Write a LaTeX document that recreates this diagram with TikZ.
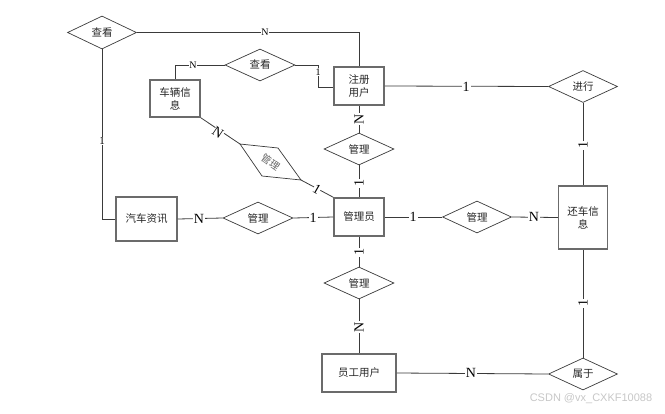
\documentclass[tikz,border=0pt]{standalone}
\usepackage{fontspec}
\setmainfont{Liberation Serif}
\newfontfamily\cjk{Noto Sans CJK SC}
\newfontfamily\wmfont{Liberation Sans}
\usetikzlibrary{shapes.geometric}
\definecolor{boxgray}{HTML}{6B6B6B}
\definecolor{linegray}{HTML}{3A3A3A}
\begin{document}
\begin{tikzpicture}[x=1pt,y=-1pt,
  ent/.style={draw=boxgray, line width=1.5pt, inner sep=0pt, align=center,
    text=black!85, font=\cjk\fontsize{10.5}{13}\selectfont},
  rel/.style={diamond, draw=linegray, line width=0.7pt, inner sep=0pt, aspect=2.2,
    minimum width=70pt, minimum height=32pt, text=black!85,
    font=\cjk\fontsize{10.5}{13}\selectfont},
  conn/.style={draw=linegray, line width=0.8pt},
  lab/.style={fill=white, inner sep=1pt, font=\fontsize{14}{14}\selectfont},
  slab/.style={fill=white, inner sep=0.5pt, font=\fontsize{10}{10}\selectfont}]
\useasboundingbox (0,0) rectangle (665,413);

% entities
\node[ent, minimum width=50pt, minimum height=37pt] (clxx) at (175,98.5) {车辆信\\息};
\node[ent, minimum width=50pt, minimum height=38pt] (zcyh) at (359,86) {注册\\用户};
\node[ent, minimum width=50pt, minimum height=38pt] (gly) at (359,217) {管理员};
\node[ent, minimum width=61pt, minimum height=44pt] (qczx) at (146.5,219) {汽车资讯};
\node[ent, minimum width=49pt, minimum height=63pt] (hcxx) at (583,217.5) {还车信\\息};
\node[ent, minimum width=74pt, minimum height=38pt] (ygyh) at (359,373) {员工用户};

% relationships
\node[rel, minimum width=69pt, minimum height=33pt] (ck1) at (102,32.5) {查看};
\node[rel] (ck2) at (260,65) {查看};
\node[rel, minimum width=69pt] (jx) at (583,86.5) {进行};
\node[rel] (gla) at (359,149) {管理};
\node[rel] (glb) at (258,218) {管理};
\node[rel, minimum width=69pt] (glc) at (477,217) {管理};
\node[rel] (gld) at (359,283) {管理};
\node[rel, minimum width=69pt] (sy) at (583,374) {属于};

% skewed relationship
\coordinate (rtl) at (240,144);
\coordinate (rtr) at (278,148);
\coordinate (rbr) at (301,180);
\coordinate (rbl) at (262,176);
\draw[draw=linegray, line width=0.7pt] (rtl) -- (rtr) -- (rbr) -- (rbl) -- cycle;
\node[rotate=-35, text=black!60, inner sep=0pt, font=\cjk\fontsize{10}{11}\selectfont] (rdt) at (270.5,162) {管理};

% connectors
\draw[conn] (ck1.east) -| (zcyh.north);
\draw[conn] (ck1.south) |- (qczx.west);
\draw[conn] (ck2.west) -| (clxx.north);
\coordinate (b1) at (318,65);
\coordinate (b2) at (318,87);
\draw[conn] (ck2.east) -- (b1) -- (b2) -- (zcyh.west |- b2);
\draw[conn] (zcyh.east) -- (jx.west);
\draw[conn] (jx.south) -- (hcxx.north);
\draw[conn] (zcyh.south) -- (gla.north);
\draw[conn] (gla.south) -- (gly.north);
\draw[conn] (qczx.east) -- (glb.west);
\draw[conn] (glb.east) -- (gly.west);
\draw[conn] (gly.east) -- (glc.west);
\draw[conn] (glc.east) -- (hcxx.west);
\draw[conn] (gly.south) -- (gld.north);
\draw[conn] (gld.south) -- (ygyh.north);
\draw[conn] (ygyh.east) -- (sy.west);
\draw[conn] (hcxx.south) -- (sy.north);
\draw[conn] (clxx.south east) -- (rtl);
\draw[conn] (rbr) -- (gly.north west);

% cardinality labels
\node[slab] (l1) at (265,32) {N};
\node[slab, font=\fontsize{11}{11}\selectfont] (l2) at (102,141) {1};
\node[slab] (l3) at (193,65) {N};
\node[slab] (l4) at (318,72) {1};
\node[lab] (l5) at (466,87) {1};
\node[lab, rotate=90] (l6) at (583,145) {1};
\node[lab, rotate=90] (l7) at (359,119) {N};
\node[lab, rotate=90] (l8) at (359,183) {1};
\node[lab] (l9) at (199,219) {N};
\node[lab] (l10) at (313,218) {1};
\node[lab] (l11) at (413,217) {1};
\node[lab] (l12) at (534,217) {N};
\node[lab, rotate=90] (l13) at (359,252) {1};
\node[lab, rotate=90] (l14) at (359,327) {N};
\node[lab] (l15) at (471,373) {N};
\node[lab, rotate=90] (l16) at (583,303) {1};
\node[lab, rotate=-34, inner sep=0pt] (l17) at (218,133) {N};
\node[lab, rotate=-30, inner sep=0pt] (l18) at (317,189) {1};

% watermark
\node[font=\wmfont\fontsize{11}{11}\selectfont, text=black!22, inner sep=0pt] (wm) at (591,399) {CSDN @vx\_CXKF10088};
\end{tikzpicture}
\end{document}
